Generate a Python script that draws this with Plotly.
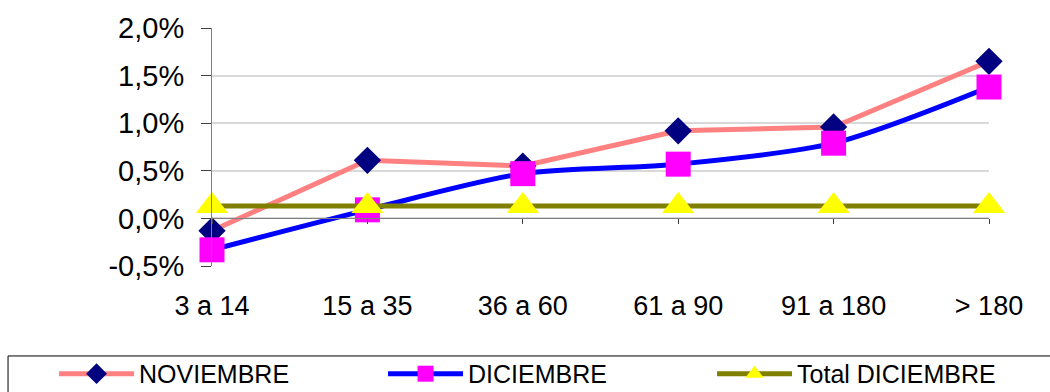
import plotly.graph_objects as go

# Rangos de días (categorías del eje X)
categorias = ["3 a 14", "15 a 35", "36 a 60", "61 a 90", "91 a 180", "> 180"]

# Valores en porcentaje
noviembre = [-0.13, 0.61, 0.55, 0.92, 0.96, 1.65]
diciembre = [-0.33, 0.09, 0.47, 0.57, 0.79, 1.38]
total_diciembre = [0.13, 0.13, 0.13, 0.13, 0.13, 0.13]

y_ticks = [-0.5, 0.0, 0.5, 1.0, 1.5, 2.0]
y_ticktext = [f"{v:.1f}%".replace(".", ",") for v in y_ticks]

FONT = "Liberation Sans, Arial, sans-serif"

fig = go.Figure()

fig.add_trace(go.Scatter(
    x=categorias, y=noviembre, name="NOVIEMBRE",
    mode="lines+markers",
    line=dict(color="#FF8080", width=5),
    marker=dict(symbol="diamond", size=21, color="#000080", line=dict(width=0)),
    cliponaxis=False,
))

fig.add_trace(go.Scatter(
    x=categorias, y=diciembre, name="DICIEMBRE",
    mode="lines+markers",
    line=dict(color="#0000FF", width=5, shape="spline", smoothing=0.8),
    marker=dict(symbol="square", size=25, color="#FF00FF", line=dict(width=0)),
    cliponaxis=False,
))

fig.add_trace(go.Scatter(
    x=categorias, y=total_diciembre, name="Total DICIEMBRE",
    mode="lines+markers",
    line=dict(color="#808000", width=5),
    marker=dict(symbol="triangle-up", size=28, color="#FFFF00", line=dict(width=0)),
    cliponaxis=False,
    xaxis="x2",
))

# Marco de la leyenda (abierto por la derecha y por abajo)
fig.add_shape(
    type="rect", xref="paper", yref="paper",
    x0=-0.2625, x1=1.09, y0=-0.62, y1=-0.378,
    line=dict(color="black", width=1), fillcolor="rgba(0,0,0,0)",
    layer="below",
)

fig.update_layout(
    width=1050, height=392,
    margin=dict(l=212, r=61, t=28, b=126, autoexpand=False),
    paper_bgcolor="white", plot_bgcolor="white",
    font=dict(family=FONT, color="black"),
    showlegend=True,
    xaxis=dict(
        type="category", categoryorder="array", categoryarray=categorias,
        range=[0, 5], showgrid=False, zeroline=False, showline=False,
        ticks="outside", ticklen=16, tickcolor="rgba(0,0,0,0)",
        tickfont=dict(size=27, family=FONT, color="black"),
    ),
    xaxis2=dict(
        type="category", categoryorder="array", categoryarray=categorias,
        range=[0, 5], overlaying="x", anchor="free", position=0.2,
        showgrid=False, zeroline=False, showline=True,
        linecolor="#7F7F7F", linewidth=1,
        ticks="outside", ticklen=5, tickcolor="#404040", tickwidth=1,
        showticklabels=False,
    ),
    yaxis=dict(
        range=[-0.5, 2.0], tickvals=y_ticks, ticktext=y_ticktext,
        showgrid=True, gridcolor="#D9D9D9", gridwidth=1.5,
        zeroline=False, showline=True, linecolor="#7F7F7F", linewidth=1,
        ticks="outside", ticklen=10, tickcolor="#404040",
        ticklabelstandoff=11,
        tickfont=dict(size=29, family=FONT, color="black"),
    ),
    legend=dict(
        orientation="h",
        x=-0.2033, xanchor="left",
        y=-0.357, yanchor="top",
        borderwidth=0,
        font=dict(size=25, family=FONT, color="black"),
        itemwidth=75, entrywidth=239, indentation=0,
        bgcolor="rgba(0,0,0,0)",
    ),
)

fig.write_html("out.html")
